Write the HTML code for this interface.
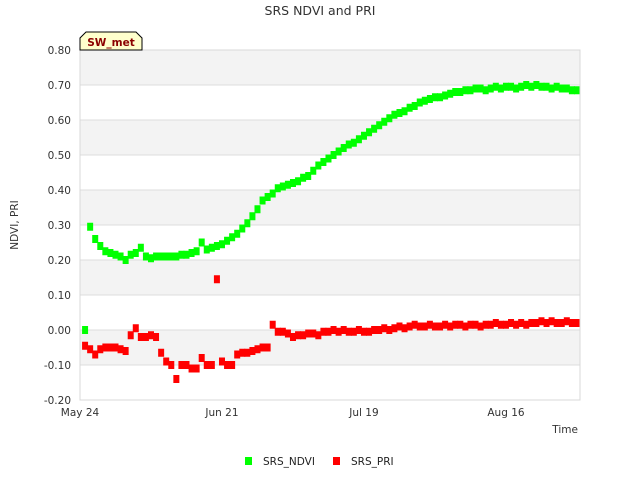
<!DOCTYPE html>
<html><head><meta charset="utf-8"><style>
body{margin:0;background:#fff;font-family:"DejaVu Sans","Liberation Sans",sans-serif;}
svg text{font-family:"DejaVu Sans","Liberation Sans",sans-serif;}
</style></head><body>
<svg id="chart" width="640" height="480" xmlns="http://www.w3.org/2000/svg" style="display:block">
<text x="320" y="15" text-anchor="middle" font-size="12.5" fill="#333">SRS NDVI and PRI</text>
<g id="grid"></g>
<g id="marks"></g>
<g id="axes"></g>
<text transform="translate(18,225) rotate(-90)" text-anchor="middle" font-size="10.5" fill="#333">NDVI, PRI</text>
<text x="578" y="433" text-anchor="end" font-size="10.5" fill="#333">Time</text>
<g>
<path d="M80,50 L80,38 L86,32 L136,32 L142,38 L142,50 Z" fill="#ffffcc" stroke="#000" stroke-width="1"/>
<text x="111" y="46" text-anchor="middle" font-size="10.5" font-weight="bold" fill="#8b0000">SW_met</text>
</g>
<g>
<g><rect x="245" y="457" width="7" height="8" fill="#00ff00"/><text x="263" y="465" font-size="10.5" fill="#222">SRS_NDVI</text></g>
<g><rect x="333" y="457" width="7" height="8" fill="#ff0000"/><text x="351" y="465" font-size="10.5" fill="#222">SRS_PRI</text></g>
</g>
</svg>
<script>
const yTicks=[-0.2,-0.1,0,0.1,0.2,0.3,0.4,0.5,0.6,0.7,0.8];
const yTickLabels=["-0.20","-0.10","0.00","0.10","0.20","0.30","0.40","0.50","0.60","0.70","0.80"];
const xTickDays=[0,28,56,84];
const xTickLabels=["May 24","Jun 21","Jul 19","Aug 16"];
const ndviValues=[0.00,0.295,0.26,0.24,0.225,0.22,0.215,0.21,0.20,0.215,0.22,0.235,0.21,0.205,0.21,0.21,0.21,0.21,0.21,0.215,0.215,0.22,0.225,0.25,0.23,0.235,0.24,0.245,0.255,0.265,0.275,0.29,0.305,0.325,0.345,0.37,0.38,0.39,0.405,0.41,0.415,0.42,0.425,0.435,0.44,0.455,0.47,0.48,0.49,0.5,0.51,0.52,0.53,0.535,0.545,0.555,0.565,0.575,0.585,0.595,0.605,0.615,0.62,0.625,0.635,0.64,0.65,0.655,0.66,0.665,0.665,0.67,0.675,0.68,0.68,0.685,0.685,0.69,0.69,0.685,0.69,0.695,0.69,0.695,0.695,0.69,0.695,0.70,0.695,0.70,0.695,0.695,0.69,0.695,0.69,0.69,0.685,0.685];
const priValues=[-0.045,-0.055,-0.07,-0.055,-0.05,-0.05,-0.05,-0.055,-0.06,-0.015,0.005,-0.02,-0.02,-0.015,-0.02,-0.065,-0.09,-0.1,-0.14,-0.1,-0.1,-0.11,-0.11,-0.08,-0.1,-0.1,0.145,-0.09,-0.1,-0.1,-0.07,-0.065,-0.065,-0.06,-0.055,-0.05,-0.05,0.015,-0.005,-0.005,-0.01,-0.02,-0.015,-0.015,-0.01,-0.01,-0.015,-0.005,-0.005,0.0,-0.005,0.0,-0.005,-0.005,0.0,-0.005,-0.005,0.0,0.0,0.005,0.0,0.005,0.01,0.005,0.01,0.015,0.01,0.01,0.015,0.01,0.01,0.015,0.01,0.015,0.015,0.01,0.015,0.015,0.01,0.015,0.015,0.02,0.015,0.015,0.02,0.015,0.02,0.015,0.02,0.02,0.025,0.02,0.025,0.02,0.02,0.025,0.02,0.02];
const NS="http://www.w3.org/2000/svg";
const L=80,R=580,T=50,B=400,DAYS=98.6;
function xS(d){return L+d/DAYS*(R-L);}
function yS(v){return B-(v+0.2)/1.0*(B-T);}
function mk(tag,attrs,parent){const e=document.createElementNS(NS,tag);for(const k in attrs)e.setAttribute(k,attrs[k]);parent.appendChild(e);return e;}
const grid=document.getElementById('grid'),marks=document.getElementById('marks'),axes=document.getElementById('axes');
for(let i=0;i<yTicks.length-1;i++){
  if(i%2===1){const b=mk('rect',{x:L,y:yS(yTicks[i+1]),width:R-L,height:yS(yTicks[i])-yS(yTicks[i+1]),fill:'#f3f3f3'},grid);
  
  }
}
yTicks.forEach((v,i)=>{
  const l=mk('line',{x1:L,x2:R,y1:yS(v),y2:yS(v),stroke:'#dcdcdc','stroke-width':1},grid);
  
  
  const t=mk('text',{x:71,y:yS(v)+4,'text-anchor':'end','font-size':10.5,fill:'#333'},axes);
  t.textContent=yTickLabels[i];
  
  
});
const fr=mk('rect',{x:L,y:T,width:R-L,height:B-T,fill:'none',stroke:'#d8d8d8'},axes);


xTickDays.forEach((d,i)=>{
  const t=mk('text',{x:xS(d),y:416,'text-anchor':'middle','font-size':10.5,fill:'#333'},axes);
  t.textContent=xTickLabels[i];
  
  
});
function series(vals,color,name){
  vals.forEach((v,i)=>{
    const d=i+1;
    const r=mk('rect',{x:xS(d)-3,y:yS(v)-4,width:6,height:8,fill:color},marks);
    
    
  });
}
series(ndviValues,'#00ff00','ndvi-point');
series(priValues,'#ff0000','pri-point');
</script>
</body></html>
